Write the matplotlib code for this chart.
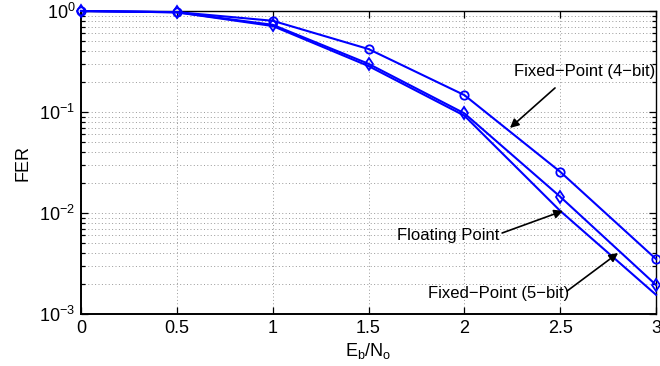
import numpy as np
import matplotlib.pyplot as plt
from matplotlib.ticker import LogLocator, NullFormatter, FixedLocator

plt.rcParams['font.family'] = ['Liberation Sans', 'DejaVu Sans']
plt.rcParams['mathtext.default'] = 'regular'

# Eb/No (dB) and frame error rates
ebno = [0, 0.5, 1, 1.5, 2, 2.5, 3]
fer_fixed4 = [1.0, 0.975, 0.80, 0.42, 0.147, 0.0256, 0.0035]
fer_fixed5 = [1.0, 0.97, 0.73, 0.30, 0.097, 0.0145, 0.00194]
fer_float = [1.0, 0.97, 0.71, 0.285, 0.092, 0.0105, 0.00155]

x_ticks = [0, 0.5, 1, 1.5, 2, 2.5, 3]
x_ticklabels = ['0', '0.5', '1', '1.5', '2', '2.5', '3']

fig = plt.figure(figsize=(6.6, 3.66), dpi=100)
ax = fig.add_axes([0.1227, 0.142, 0.8713, 0.828])

blue = '#0000ff'
ax.semilogy(ebno, fer_fixed4, color=blue, lw=1.5, marker='o', ms=6,
            mfc='none', mew=1.3, clip_on=False, zorder=3)
ax.semilogy(ebno, fer_fixed5, color=blue, lw=1.5, marker='d', ms=6,
            mfc='none', mew=1.3, clip_on=False, zorder=3)
ax.semilogy(ebno, fer_float, color=blue, lw=1.5, clip_on=False, zorder=3)

ax.set_xlim(0, 3)
ax.set_ylim(1e-3, 1)
ax.xaxis.set_major_locator(FixedLocator(x_ticks))
ax.set_xticklabels(x_ticklabels)
ax.yaxis.set_minor_locator(LogLocator(base=10, subs=np.arange(2, 10)))
ax.yaxis.set_minor_formatter(NullFormatter())
ax.set_yticks([1e-3, 1e-2, 1e-1, 1])
ax.set_yticklabels([r'$10^{-3}$', r'$10^{-2}$', r'$10^{-1}$', r'$10^{0}$'])

ax.tick_params(which='both', direction='in', top=True, right=True,
               labelsize=13, width=0.9)
ax.tick_params(which='major', length=5, pad=4)
ax.tick_params(which='minor', length=3)
for s in ax.spines.values():
    s.set_linewidth(1.0)
ax.spines['left'].set_linewidth(1.4)
ax.spines['bottom'].set_linewidth(1.4)

ax.grid(True, which='major', ls=(0, (1, 2.5)), color='#999999', lw=0.7)
ax.grid(True, which='minor', axis='y', ls=(0, (1, 2.5)), color='#999999', lw=0.7)

ax.set_xlabel(r'$E_b/N_o$', fontsize=13, labelpad=3)
ax.set_ylabel('FER', fontsize=13, labelpad=6)

arrow = dict(arrowstyle='-|>', color='k', lw=1.2, mutation_scale=13,
             shrinkA=0, shrinkB=0)

ax.text(2.63, 0.249, 'Fixed\u2212Point (4\u2212bit)', fontsize=12,
        ha='center', va='center')
ax.annotate('', xy=(2.238, 0.0695), xytext=(2.473, 0.173), arrowprops=arrow)

ax.text(1.915, 0.00605, 'Floating Point', fontsize=12, ha='center', va='center')
ax.annotate('', xy=(2.515, 0.0105), xytext=(2.197, 0.00634), arrowprops=arrow)

ax.text(2.181, 0.00158, 'Fixed\u2212Point (5\u2212bit)', fontsize=12,
        ha='center', va='center')
ax.annotate('', xy=(2.802, 0.00402), xytext=(2.536, 0.00169), arrowprops=arrow)

fig.savefig('out.png', dpi=100)
